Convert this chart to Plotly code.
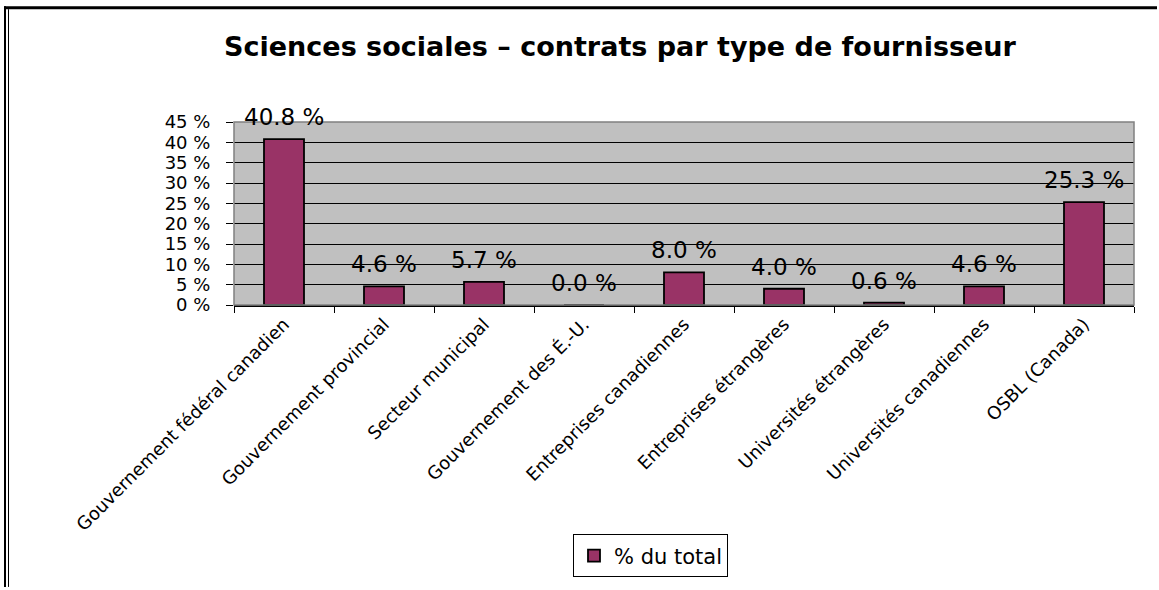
import plotly.graph_objects as go

categories = [
    "Gouvernement fédéral canadien",
    "Gouvernement provincial",
    "Secteur municipal",
    "Gouvernement des É.-U.",
    "Entreprises canadiennes",
    "Entreprises étrangères",
    "Universités étrangères",
    "Universités canadiennes",
    "OSBL (Canada)",
]
values = [40.8, 4.6, 5.7, 0.0, 8.0, 4.0, 0.6, 4.6, 25.3]
series_name = "% du total"
title_text = "Sciences sociales – contrats par type de fournisseur"
y_ticks = [0, 5, 10, 15, 20, 25, 30, 35, 40, 45]

W, H = 1159, 590
L, R, T, B = 234, 1134, 122, 307  # plot area in pixels


def px(x):
    return (x - L) / (R - L)


def py(y):
    return (B - y) / (B - T)


fig = go.Figure()
fig.add_trace(go.Bar(
    x=categories,
    y=values,
    name=series_name,
    marker=dict(color="#993366", line=dict(color="black", width=1.8)),
    showlegend=True,
))

annotations = []
for c, v in zip(categories, values):
    annotations.append(dict(
        x=c, y=v, xref="x", yref="y",
        text=f"{v:.1f} %", showarrow=False,
        yanchor="middle", yshift=22,
        font=dict(family="DejaVu Sans", size=23, color="black"),
    ))

shapes = [
    # plot area border (gray)
    dict(type="rect", xref="paper", yref="paper", x0=0, x1=1, y0=0, y1=1,
         line=dict(color="#808080", width=1.5), layer="above"),
    # outer frame: top thick line
    dict(type="line", xref="paper", yref="paper",
         x0=px(4), x1=px(1157), y0=py(6.5), y1=py(6.5),
         line=dict(color="black", width=3)),
    # left double line
    dict(type="line", xref="paper", yref="paper",
         x0=px(5), x1=px(5), y0=py(5), y1=py(592),
         line=dict(color="black", width=2)),
    dict(type="line", xref="paper", yref="paper",
         x0=px(8.5), x1=px(8.5), y0=py(8), y1=py(592),
         line=dict(color="black", width=1)),
]

fig.update_layout(
    width=W, height=H,
    margin=dict(l=L, r=W - R, t=T, b=H - B, pad=0),
    paper_bgcolor="white",
    plot_bgcolor="#C0C0C0",
    bargap=0.6,
    title=dict(text=f"<b>{title_text}</b>", x=620 / W, xanchor="center",
               y=1 - 47 / H, yanchor="middle",
               font=dict(family="DejaVu Sans", size=27, color="black")),
    font=dict(family="DejaVu Sans", color="black"),
    xaxis=dict(
        type="category", tickangle=-45, tickson="boundaries",
        ticks="outside", ticklen=6, tickcolor="black",
        showline=True, linecolor="black", linewidth=1.5,
        showgrid=False,
        tickfont=dict(family="DejaVu Sans", size=18, color="black"),
    ),
    yaxis=dict(
        range=[0, 45], tickvals=y_ticks,
        ticktext=[f"{t} %" for t in y_ticks],
        ticks="outside", ticklen=7, tickcolor="black",
        ticklabelstandoff=12,
        showgrid=True, gridcolor="black", gridwidth=1,
        zeroline=False, showline=False,
        tickfont=dict(family="DejaVu Sans", size=18, color="black"),
    ),
    legend=dict(
        x=px(573), y=py(539), xanchor="left", yanchor="top",
        bordercolor="black", borderwidth=1, bgcolor="white",
        font=dict(family="DejaVu Sans", size=21, color="black"),
    ),
    annotations=annotations,
    shapes=shapes,
)

fig.write_html("out.html", config={"displayModeBar": False},
               post_script="document.body.style.margin='0';")
